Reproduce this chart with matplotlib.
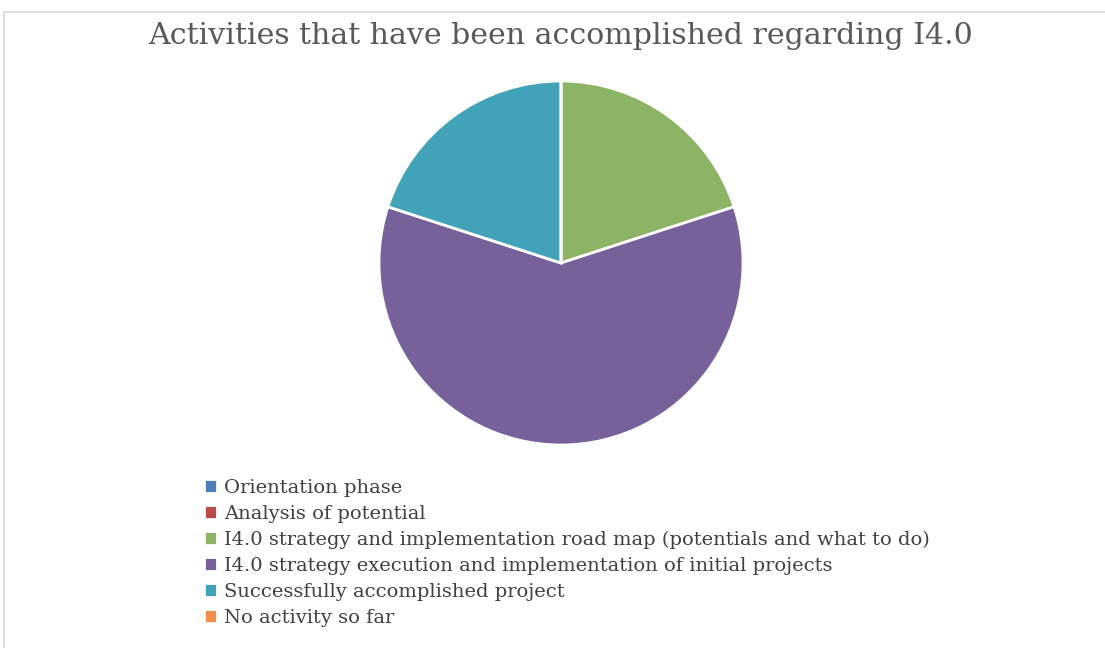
import matplotlib
matplotlib.use('Agg')
import matplotlib.pyplot as plt
from matplotlib.patches import Rectangle

labels = [
    "Orientation phase",
    "Analysis of potential",
    "I4.0 strategy and implementation road map (potentials and what to do)",
    "I4.0 strategy execution and implementation of initial projects",
    "Successfully accomplished project",
    "No activity so far",
]
shares = [0, 0, 20, 60, 20, 0]
colors = ["#4a7ebb", "#b94a48", "#8db466", "#77619b", "#42a3b8", "#f2904a"]

plt.rcParams['font.family'] = ['DejaVu Serif']

fig = plt.figure(figsize=(11.05, 6.48), dpi=100)
fig.patches.append(Rectangle((0.004, -0.01), 1.0, 0.992, transform=fig.transFigure,
                             fill=False, edgecolor="#d9d9d9", linewidth=1.2))

# pie area: centre (561, 263), radius 182 px
ax = fig.add_axes([(561 - 182) / 1105, 1 - (263 + 182) / 648, 364 / 1105, 364 / 648])
wedges, _ = ax.pie(shares, colors=colors, startangle=90, counterclock=False,
                   wedgeprops=dict(edgecolor="white", linewidth=2))
ax.set_xlim(-1, 1)
ax.set_ylim(-1, 1)
ax.set_aspect("equal")

fig.text(561 / 1105, 1 - 36 / 648, "Activities that have been accomplished regarding I4.0",
         ha="center", va="center", fontsize=21.6, color="#595959")

fig.legend(wedges, labels, loc="upper left", bbox_to_anchor=(194 / 1105, 1 - 469 / 648),
           frameon=False, fontsize=14, labelcolor="#404040", handlelength=0.68,
           handleheight=0.68, handletextpad=0.38, labelspacing=0.41, borderpad=0)

fig.savefig("out.png", dpi=100)
